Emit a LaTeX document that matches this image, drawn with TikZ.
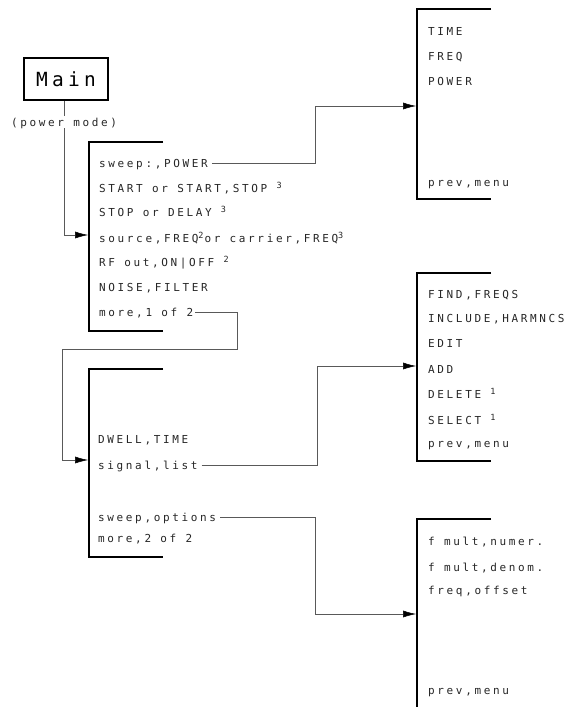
\documentclass[tikz,border=0pt]{standalone}
\usepackage{fontspec}
\usetikzlibrary{arrows.meta}
\newfontfamily\plotf[LetterSpace=24]{DejaVu Sans Mono}
\newfontfamily\mainf[LetterSpace=22]{DejaVu Sans Mono}
\newcommand{\spx}[1]{\raisebox{4pt}{\fontsize{8.5}{8.5}\selectfont #1}\kern1pt}
\tikzset{
  lbl/.style={anchor=west, inner sep=0pt, text height=8pt, text depth=0pt,
    font=\plotf\fontsize{11}{12}\selectfont, text=black!85},
  bracket/.style={line width=1.4pt, black},
  conn/.style={line width=0.6pt, black!65},
  arr/.style={conn, -{Latex[length=13pt,width=7pt,color=black,line width=0.5pt]}},
}
\begin{document}
\begin{tikzpicture}[x=1pt,y=-1pt]
\useasboundingbox (0,0) rectangle (565,707);
% Main box
\node[draw, line width=2.2pt, minimum width=84pt, minimum height=42pt, inner sep=0pt,
  font=\mainf\fontsize{19.5}{20}\selectfont] (main) at (66,79) {Main};
\node[lbl, anchor=center, inner sep=2pt] (pm) at (64,122) {(power mode)};
% brackets
\draw[bracket] (163,142) -- (89,142) -- (89,331) -- (163,331);
\draw[bracket] (163,369) -- (89,369) -- (89,557) -- (163,557);
\draw[bracket] (491,9) -- (417,9) -- (417,199) -- (491,199);
\draw[bracket] (491,273) -- (417,273) -- (417,461) -- (491,461);
\draw[bracket] (491,519) -- (417,519) -- (417,707);
% entry points
\coordinate (b2in) at (88,235);
\coordinate (b3in) at (416,106);
\coordinate (b4in) at (88,460);
\coordinate (b5in) at (416,366);
\coordinate (b6in) at (416,614);
\coordinate (e1) at (315,106);
\coordinate (e2) at (237,349);
\coordinate (e3) at (62,349);
\coordinate (e4) at (317,366);
\coordinate (e5) at (315,614);
% menu 1
\node[lbl] (a1) at (99,163) {sweep:,POWER};
\node[lbl] (a2) at (99,188) {START or START,STOP \spx{3}};
\node[lbl] (a3) at (99,212) {STOP or DELAY \spx{3}};
\node[lbl] (a4) at (99,238) {source,FREQ\spx{2}or carrier,FREQ\spx{3}};
\node[lbl] (a5) at (99,262) {RF out,ON|OFF \spx{2}};
\node[lbl] (a6) at (99,287) {NOISE,FILTER};
\node[lbl] (a7) at (99,312) {more,1 of 2};
% menu 2
\node[lbl] (c1) at (98,439) {DWELL,TIME};
\node[lbl] (c2) at (98,465) {signal,list};
\node[lbl] (c3) at (98,517) {sweep,options};
\node[lbl] (c4) at (98,538) {more,2 of 2};
% right menu 1
\node[lbl] (r1) at (428,31) {TIME};
\node[lbl] (r2) at (428,56) {FREQ};
\node[lbl] (r3) at (428,81) {POWER};
\node[lbl] (r4) at (428,182) {prev,menu};
% right menu 2
\node[lbl] (s1) at (428,294) {FIND,FREQS};
\node[lbl] (s2) at (428,318) {INCLUDE,HARMNCS};
\node[lbl] (s3) at (428,343) {EDIT};
\node[lbl] (s4) at (428,369) {ADD};
\node[lbl] (s5) at (428,394) {DELETE \spx{1}};
\node[lbl] (s6) at (428,420) {SELECT \spx{1}};
\node[lbl] (s7) at (428,443) {prev,menu};
% right menu 3
\node[lbl] (t1) at (428,541) {f mult,numer.};
\node[lbl] (t2) at (428,567) {f mult,denom.};
\node[lbl] (t3) at (428,590) {freq,offset};
\node[lbl] (t4) at (428,690) {prev,menu};
% connectors
\draw[conn] (main.south -| pm.north) -- (pm.north);
\draw[arr] (pm.south) |- (b2in);
\draw[arr] ([xshift=4pt]a1.east) -| (e1) -- (b3in);
\draw[arr] ([xshift=2pt]a7.east) -| (e2) -- (e3) |- (b4in);
\draw[arr] ([xshift=4pt]c2.east) -| (e4) -- (b5in);
\draw[arr] ([xshift=4pt]c3.east) -| (e5) -- (b6in);
\end{tikzpicture}
\end{document}
